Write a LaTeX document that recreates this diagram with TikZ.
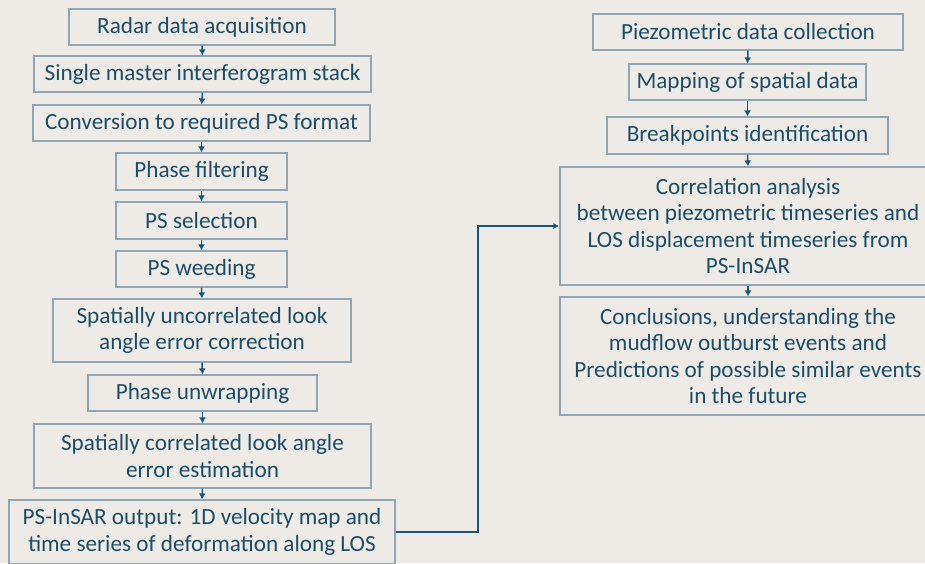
\documentclass[tikz,border=0pt]{standalone}
\usepackage{fontspec}
\setmainfont{Carlito}
\usetikzlibrary{arrows.meta}
\definecolor{bgc}{HTML}{EEEBE6}
\definecolor{bordc}{HTML}{8FA6B4}
\definecolor{txtc}{HTML}{1E4E66}
\definecolor{arrc}{HTML}{1A5676}
\begin{document}
\begin{tikzpicture}[x=1pt,y=-1pt,
  box/.style={draw=bordc, line width=1.2pt, fill=bgc, text=txtc, align=center,
    inner sep=0pt, font=\fontsize{23.2}{26.5}\selectfont},
  flow/.style={draw=arrc, line width=1.3pt, -{Latex[length=6pt,width=6pt]}},
  smallflow/.style={draw=arrc, line width=1.5pt, -{Latex[length=6pt,width=7pt]}}]
\fill[bgc] (0,0) rectangle (925,563);
\clip (0,0) rectangle (925,563);
\useasboundingbox (0,0) rectangle (925,563);
% left column
\node[box, minimum width=266, minimum height=36] (a1) at (202,27) {Radar data acquisition};
\node[box, minimum width=337, minimum height=36] (a2) at (202.5,74) {Single master interferogram stack};
\node[box, minimum width=337, minimum height=36] (a3) at (201.5,123) {Conversion to required PS format};
\node[box, minimum width=171, minimum height=37] (a4) at (201.5,171.5) {Phase filtering};
\node[box, minimum width=171, minimum height=37] (a5) at (201.5,220.5) {PS selection};
\node[box, minimum width=171, minimum height=36] (a6) at (201.5,269) {PS weeding};
\node[box, minimum width=298, minimum height=63] (a7) at (202,330.5) {Spatially uncorrelated look\\angle error correction};
\node[box, minimum width=229, minimum height=36] (a8) at (202.5,393) {Phase unwrapping};
\node[box, minimum width=337, minimum height=64] (a9) at (202.5,456) {Spatially correlated look angle\\error estimation};
\node[box, minimum width=386, minimum height=64] (a10) at (202,532) {PS-InSAR output: 1D velocity map and\\time series of deformation along LOS};
% right column
\node[box, minimum width=310, minimum height=36] (b1) at (748,32) {Piezometric data collection};
\node[box, minimum width=237, minimum height=36] (b2) at (747.5,82) {Mapping of spatial data};
\node[box, minimum width=281, minimum height=37] (b3) at (747.5,135.5) {Breakpoints identification};
\node[box, minimum width=376, minimum height=118] (b4) at (748,226) {Correlation analysis\\between piezometric timeseries and\\LOS displacement timeseries from\\PS-InSAR};
\node[box, minimum width=376, minimum height=118] (b5) at (748,356) {Conclusions, understanding the\\mudflow outburst events and\\Predictions of possible similar events\\in the future};
% arrows
\foreach \u/\v in {a1/a2,a2/a3,a3/a4,a4/a5,a5/a6,a6/a7,a7/a8,a8/a9,a9/a10,b1/b2,b2/b3,b3/b4,b4/b5}
  \draw[smallflow] (\u.south) -- (\v.north);
\coordinate (k1) at (478,532);
\coordinate (k2) at (478,226);
\draw[flow] (a10.east) -- (k1) -- (k2) -- (b4.west);
\end{tikzpicture}
\end{document}
